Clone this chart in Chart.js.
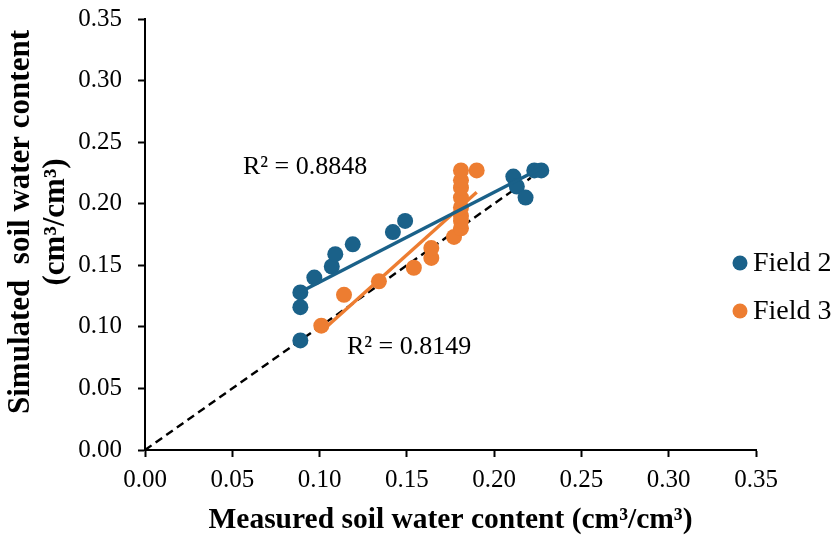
<!DOCTYPE html>
<html>
<head>
<meta charset="utf-8">
<script src="https://cdn.jsdelivr.net/npm/chart.js@4"></script>
<style>
  html, body { margin: 0; padding: 0; background: #fff; }
  #wrap { width: 839px; height: 542px; }
</style>
</head>
<body>
<div id="wrap"><canvas id="chart" width="839" height="542"></canvas></div>
<script>
// measured vs simulated soil water content (cm3/cm3)
const field2X = [0.089, 0.089, 0.089, 0.097, 0.107, 0.109, 0.119, 0.142, 0.149, 0.211, 0.213, 0.218, 0.223, 0.227];
const field2Y = [0.089, 0.116, 0.128, 0.140, 0.149, 0.159, 0.167, 0.177, 0.186, 0.222, 0.214, 0.205, 0.227, 0.227];

const field3X = [0.101, 0.114, 0.134, 0.154, 0.164, 0.164, 0.177, 0.181, 0.181, 0.181, 0.181, 0.181, 0.181, 0.181, 0.181, 0.190];
const field3Y = [0.101, 0.126, 0.137, 0.148, 0.156, 0.164, 0.173, 0.180, 0.186, 0.190, 0.197, 0.205, 0.213, 0.219, 0.227, 0.227];

const seriesNames = ['Field 2', 'Field 3'];
const r2Labels = ['R\u00b2 = 0.8848', 'R\u00b2 = 0.8149'];
const oneToOne = [0, 0.221];
const axisTicks = [0, 0.05, 0.10, 0.15, 0.20, 0.25, 0.30, 0.35];
const yTitle = ['Simulated  soil water content', '(cm\u00b3/cm\u00b3)'];

const BLUE = '#1a6189';
const ORANGE = '#ed7d31';
const SERIF = '"Liberation Serif", "Times New Roman", serif';

const toPoints = (xs, ys) => xs.map((x, i) => ({ x: x, y: ys[i] }));

// least squares line over the span of the series
function linearFit(xs, ys) {
    const n = xs.length;
    const mx = xs.reduce((a, b) => a + b, 0) / n;
    const my = ys.reduce((a, b) => a + b, 0) / n;
    let sxy = 0, sxx = 0;
    xs.forEach((x, i) => { sxy += (x - mx) * (ys[i] - my); sxx += (x - mx) * (x - mx); });
    const slope = sxy / sxx;
    const icpt = my - slope * mx;
    const lo = Math.min(...xs), hi = Math.max(...xs);
    return [{ x: lo, y: icpt + slope * lo }, { x: hi, y: icpt + slope * hi }];
}

// R² captions, the legend on the right and the rotated y title
const annotations = {
    id: 'annotations',
    afterDatasetsDraw(chart) {
        const { ctx, scales: { x, y } } = chart;
        ctx.save();
        ctx.font = '26px ' + SERIF;
        ctx.fillStyle = '#000';
        ctx.textBaseline = 'middle';
        ctx.textAlign = 'left';
        ctx.fillText(r2Labels[0], x.getPixelForValue(0.0561), y.getPixelForValue(0.2298));
        ctx.fillText(r2Labels[1], x.getPixelForValue(0.1157), y.getPixelForValue(0.0836));

        ctx.font = '28px ' + SERIF;
        const colors = [BLUE, ORANGE];
        seriesNames.forEach((name, i) => {
            const cy = 263 + i * 48;
            ctx.beginPath();
            ctx.arc(740, cy, 7.5, 0, Math.PI * 2);
            ctx.fillStyle = colors[i];
            ctx.fill();
            ctx.fillStyle = '#000';
            ctx.fillText(name, 753, cy + 1);
        });

        ctx.font = 'bold 31px ' + SERIF;
        ctx.textAlign = 'center';
        ctx.translate(0, 222);
        ctx.rotate(-Math.PI / 2);
        ctx.fillText(yTitle[0], 0, 21);
        ctx.fillText(yTitle[1], 0, 56);
        ctx.restore();
    }
};

const axisCommon = {
    type: 'linear',
    min: 0,
    max: 0.35,
    border: { display: true, color: '#000', width: 2 },
    grid: { display: true, drawOnChartArea: false, drawTicks: true, tickLength: 7, tickWidth: 2, tickColor: '#000' },
    afterBuildTicks: (scale) => { scale.ticks = axisTicks.map(v => ({ value: v })); },
};

new Chart(document.getElementById('chart'), {
    type: 'scatter',
    data: {
        datasets: [
            {
                label: 'Field 2 fit',
                data: linearFit(field2X, field2Y),
                showLine: true,
                borderColor: BLUE,
                borderWidth: 3.4,
                pointRadius: 0,
                order: 0
            },
            {
                label: 'Field 3 fit',
                data: linearFit(field3X, field3Y),
                showLine: true,
                borderColor: ORANGE,
                borderWidth: 3.4,
                pointRadius: 0,
                order: 0
            },
            {
                label: seriesNames[1],
                data: toPoints(field3X, field3Y),
                backgroundColor: ORANGE,
                borderWidth: 0,
                pointRadius: 8,
                order: 1
            },
            {
                label: seriesNames[0],
                data: toPoints(field2X, field2Y),
                backgroundColor: BLUE,
                borderWidth: 0,
                pointRadius: 8,
                order: 2
            },
            {
                label: '1:1',
                data: toPoints(oneToOne, oneToOne),
                showLine: true,
                borderColor: '#000',
                borderWidth: 2.4,
                borderDash: [8, 5],
                pointRadius: 0,
                order: 3
            }
        ]
    },
    options: {
        responsive: false,
        animation: false,
        layout: { padding: { left: 0, right: 83, top: 19, bottom: 0 } },
        plugins: {
            legend: { display: false },
            tooltip: { enabled: false }
        },
        scales: {
            x: {
                ...axisCommon,
                position: 'bottom',
                afterFit: (scale) => {
                    scale.height = 92;
                    scale.paddingLeft = 0;
                    scale.paddingRight = 0;
                },
                ticks: {
                    padding: 8,
                    color: '#000',
                    font: { family: SERIF, size: 25 },
                    maxRotation: 0,
                    callback: (v) => v.toFixed(2)
                },
                title: {
                    display: true,
                    text: 'Measured soil water content (cm\u00b3/cm\u00b3)',
                    color: '#000',
                    font: { family: SERIF, size: 29.5, weight: 'bold' },
                    padding: { top: 0, bottom: 4 }
                }
            },
            y: {
                ...axisCommon,
                position: 'left',
                afterFit: (scale) => {
                    scale.width = 145;
                    scale.paddingTop = 0;
                    scale.paddingBottom = 0;
                },
                ticks: {
                    padding: 16,
                    color: '#000',
                    font: { family: SERIF, size: 25 },
                    callback: (v) => v.toFixed(2)
                },
                title: { display: false }
            }
        }
    },
    plugins: [annotations]
});
</script>
</body>
</html>
